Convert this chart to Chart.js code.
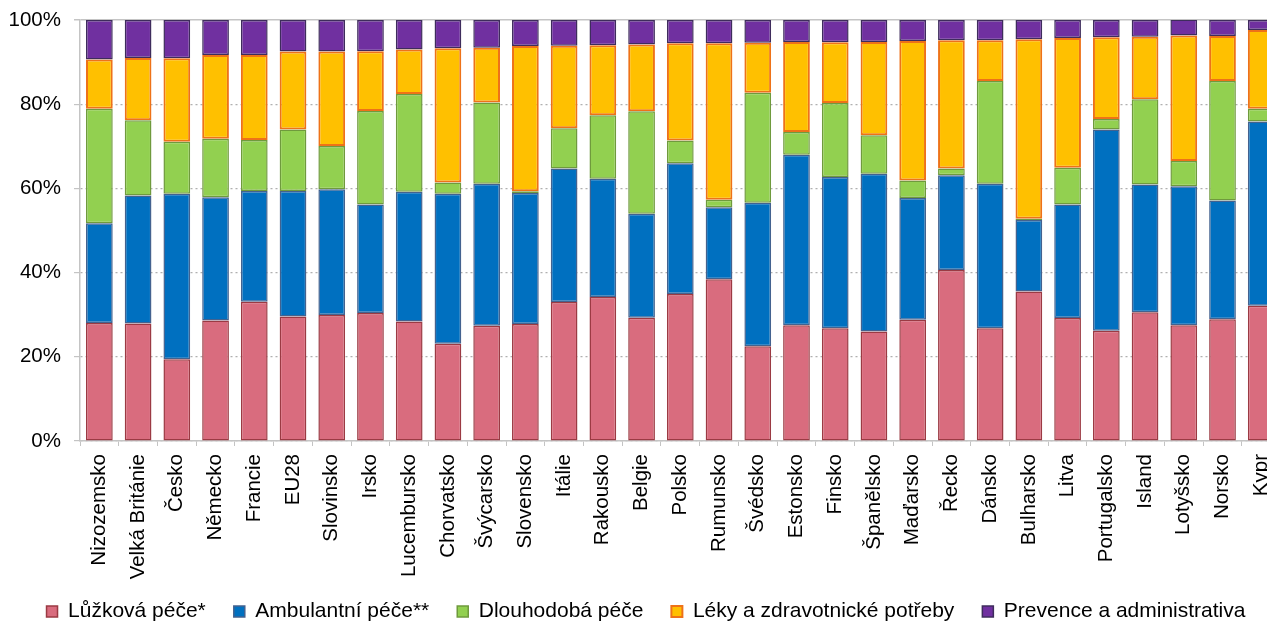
<!DOCTYPE html>
<html lang="cs">
<head>
    <meta charset="UTF-8">
    <title>Struktura výdajů na zdravotnictví</title>
    <style>
        html, body {
            margin: 0;
            padding: 0;
            background: #fff;
            overflow: hidden;
        }
        .chart-box {
            position: relative;
            width: 1294px;
            height: 632px;
        }
    </style>
</head>
<body>
    <div class="chart-box">
        <canvas id="chart"></canvas>
    </div>

    <script src="https://cdn.jsdelivr.net/npm/chart.js"></script>
    <script>
        // Země (pořadí jako v grafu)
        const countries = ['Nizozemsko', 'Velká Británie', 'Česko', 'Německo', 'Francie', 'EU28', 'Slovinsko', 'Irsko',
            'Lucembursko', 'Chorvatsko', 'Švýcarsko', 'Slovensko', 'Itálie', 'Rakousko', 'Belgie', 'Polsko', 'Rumunsko',
            'Švédsko', 'Estonsko', 'Finsko', 'Španělsko', 'Maďarsko', 'Řecko', 'Dánsko', 'Bulharsko', 'Litva',
            'Portugalsko', 'Island', 'Lotyšsko', 'Norsko', 'Kypr'];

        // podíly v %
        const luzkova = [28.0, 27.9, 19.4, 28.6, 33.1, 29.6, 29.9, 30.4, 28.4, 23.1, 27.4, 27.8, 33.0, 34.2, 29.3, 34.9,
            38.4, 22.5, 27.5, 26.8, 26.0, 28.8, 40.6, 26.8, 35.5, 29.2, 26.2, 30.6, 27.5, 28.9, 32.1];
        const ambulantni = [23.7, 30.4, 39.3, 29.3, 26.3, 29.8, 29.9, 25.8, 30.8, 35.6, 33.7, 31.1, 31.7, 28.1, 24.7, 31.1,
            17.1, 34.1, 40.5, 35.9, 37.5, 28.9, 22.5, 34.3, 17.0, 27.0, 47.8, 30.3, 33.0, 28.2, 43.8];
        const dlouhodoba = [27.2, 17.9, 12.4, 13.9, 12.1, 14.6, 10.3, 22.2, 23.2, 2.7, 19.3, 0.4, 9.6, 15.1, 24.3, 5.4,
            1.8, 26.1, 5.4, 17.6, 9.1, 4.2, 1.6, 24.4, 0.3, 8.7, 2.5, 20.3, 6.0, 28.4, 3.0];
        const leky = [11.7, 14.8, 19.8, 19.9, 20.2, 18.5, 22.4, 14.2, 10.6, 31.9, 13.0, 34.5, 19.6, 16.6, 15.9, 23.1,
            37.2, 11.9, 21.4, 14.4, 22.2, 33.1, 30.5, 9.7, 42.6, 30.8, 19.4, 14.8, 29.8, 10.7, 18.7];
        const prevence = [9.4, 9.0, 9.1, 8.3, 8.3, 7.5, 7.5, 7.4, 7.0, 6.7, 6.6, 6.2, 6.1, 6.0, 5.8, 5.5,
            5.5, 5.4, 5.2, 5.3, 5.2, 5.0, 4.8, 4.8, 4.6, 4.3, 4.1, 4.0, 3.8, 3.8, 2.4];

        const yTicks = [0, 20, 40, 60, 80, 100];

        Chart.defaults.font.family = "'Liberation Sans', Arial, sans-serif";
        Chart.defaults.color = '#000';
        Chart.defaults.animation = false;

        function serie(label, data, fill, border, width) {
            return {
                label: label,
                data: data,
                backgroundColor: fill,
                borderColor: border,
                borderWidth: width,
                borderSkipped: false,
                categoryPercentage: 1.0,
                barPercentage: 0.69
            };
        }

        // popisky osy x jsou delší než pás osy, nechceme je oříznout;
        // legendu posuneme trochu doprava, aby byla na středu jako v originále
        const layoutFix = {
            id: 'layoutFix',
            afterLayout(chart) {
                chart.scales.x.bottom = chart.height;
                chart.legend.left += 4;
                chart.legend.right += 4;
            }
        };

        const ctx = document.getElementById('chart').getContext('2d');
        new Chart(ctx, {
            type: 'bar',
            data: {
                labels: countries,
                datasets: [
                    serie('Lůžková péče*', luzkova, '#d96c7e', '#9b3a43', 1.5),
                    serie('Ambulantní péče**', ambulantni, '#0070c0', '#43628f', 1.5),
                    serie('Dlouhodobá péče', dlouhodoba, '#92d050', '#6f9a3d', 1.5),
                    serie('Léky a zdravotnické potřeby', leky, '#ffc000', '#ee7218', 2),
                    serie('Prevence a administrativa', prevence, '#7030a0', '#3e2c5c', 1.5)
                ]
            },
            plugins: [layoutFix],
            options: {
                responsive: true,
                maintainAspectRatio: false,
                layout: {
                    padding: { top: 20, right: 10, left: 0, bottom: 0 }
                },
                plugins: {
                    legend: {
                        position: 'bottom',
                        labels: {
                            boxWidth: 11,
                            boxHeight: 11,
                            padding: 28,
                            font: { size: 21 }
                        }
                    },
                    tooltip: { enabled: false }
                },
                scales: {
                    x: {
                        stacked: true,
                        afterFit: function (scale) { scale.height = 132; },
                        grid: {
                            drawOnChartArea: false,
                            tickLength: 5,
                            tickColor: '#c4c4c4',
                            color: '#c4c4c4'
                        },
                        border: { color: '#c4c4c4', width: 1.5 },
                        ticks: {
                            minRotation: 90,
                            maxRotation: 90,
                            autoSkip: false,
                            padding: 8,
                            font: { size: 20.5 }
                        }
                    },
                    y: {
                        stacked: true,
                        min: 0,
                        max: 100,
                        afterFit: function (scale) {
                            scale.width = 80;
                            scale.paddingTop = 0;
                            scale.paddingBottom = 0;
                        },
                        afterBuildTicks: function (scale) {
                            scale.ticks = yTicks.map(v => ({ value: v }));
                        },
                        grid: {
                            color: function (c) { return c.tick && c.tick.value === 100 ? '#c4c4c4' : '#b0b0b0'; },
                            lineWidth: function (c) { return c.tick && c.tick.value === 100 ? 1.5 : 1.2; },
                            tickLength: 6,
                            tickColor: '#c4c4c4',
                            tickBorderDash: []
                        },
                        border: {
                            color: '#c4c4c4',
                            width: 1.5,
                            dash: function (c) { return c.tick && c.tick.value === 100 ? [] : [2, 3]; }
                        },
                        ticks: {
                            padding: 13,
                            font: { size: 20.5 },
                            callback: function (v) { return v + '%'; }
                        }
                    }
                }
            }
        });
    </script>
</body>
</html>
